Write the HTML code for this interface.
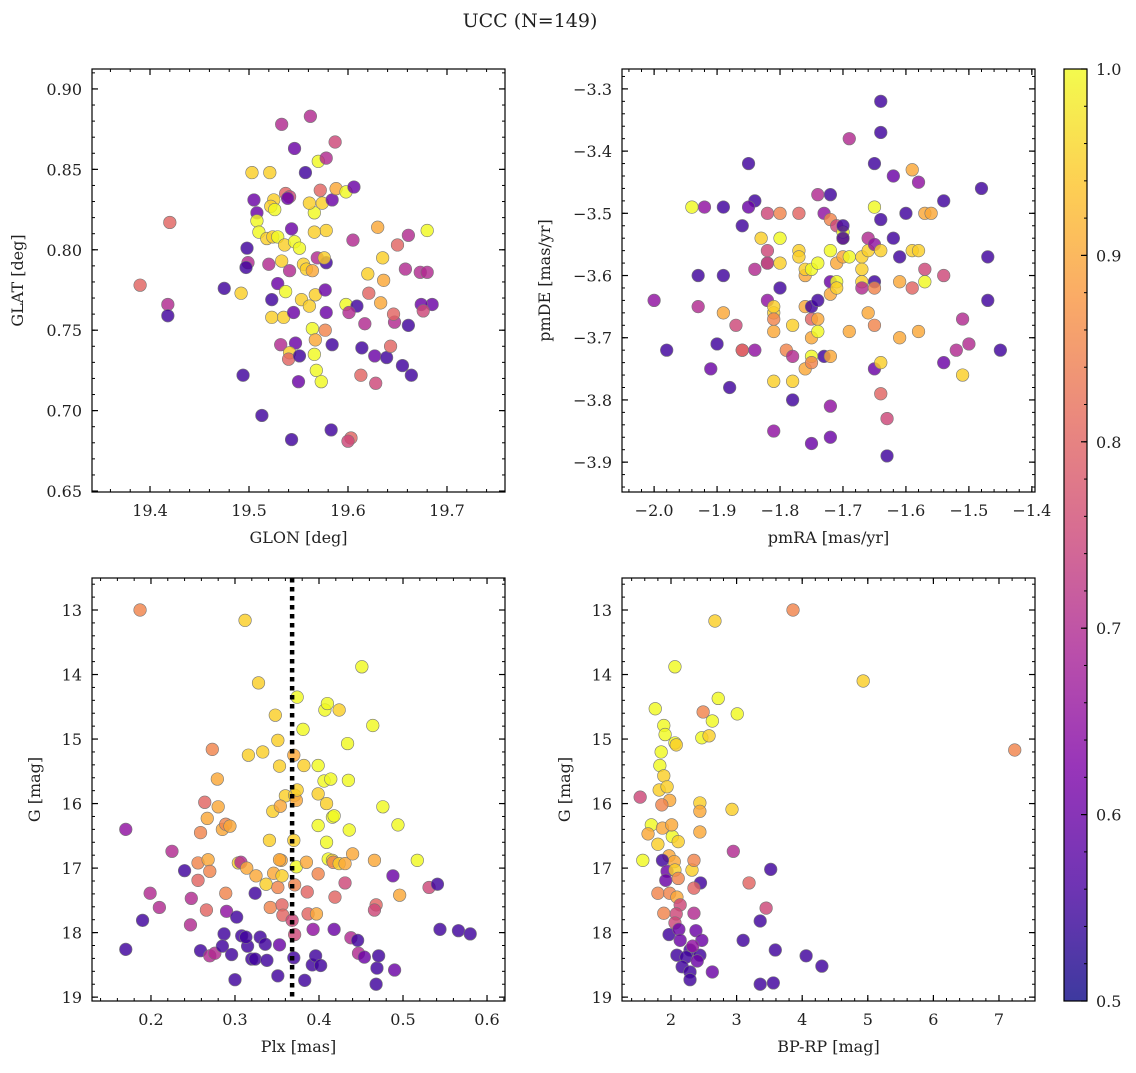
<!DOCTYPE html>
<html><head><meta charset="utf-8"><style>
body{margin:0;background:#fff;}
svg text{font-family:"DejaVu Serif","Liberation Serif",serif;fill:#222;}
</style></head><body>
<svg id="fig" width="1136" height="1068" viewBox="0 0 1136 1068" xmlns="http://www.w3.org/2000/svg">
<text x="530" y="27" font-size="19" text-anchor="middle">UCC (N=149)</text>
</svg>
<script>
// Panel 1: GLON, GLAT, prob
const p1x=[19.390,19.420,19.418,19.418,19.475,19.494,19.513,19.492,19.498,19.499,19.497,19.503,19.521,19.533,19.546,19.562,19.587,19.505,19.508,19.508,19.510,19.518,19.524,19.529,19.525,19.522,19.526,19.537,19.541,19.539,19.543,19.536,19.546,19.551,19.533,19.520,19.541,19.529,19.537,19.523,19.555,19.558,19.564,19.569,19.578,19.576,19.578,19.566,19.566,19.561,19.574,19.584,19.572,19.588,19.598,19.606,19.570,19.578,19.557,19.523,19.535,19.553,19.561,19.567,19.577,19.598,19.609,19.601,19.545,19.532,19.547,19.564,19.567,19.566,19.584,19.577,19.541,19.540,19.551,19.568,19.550,19.573,19.613,19.614,19.627,19.639,19.643,19.617,19.633,19.647,19.661,19.658,19.650,19.630,19.661,19.673,19.680,19.685,19.674,19.676,19.680,19.664,19.655,19.620,19.635,19.636,19.646,19.621,19.605,19.543,19.583,19.603,19.600,19.628,19.578];
const p1y=[0.778,0.817,0.766,0.759,0.776,0.722,0.697,0.773,0.801,0.792,0.789,0.848,0.848,0.878,0.863,0.883,0.867,0.831,0.823,0.818,0.811,0.807,0.808,0.808,0.831,0.827,0.825,0.835,0.833,0.832,0.813,0.803,0.805,0.801,0.793,0.791,0.787,0.779,0.774,0.769,0.791,0.788,0.787,0.795,0.792,0.795,0.812,0.811,0.823,0.829,0.829,0.831,0.837,0.838,0.836,0.839,0.855,0.857,0.848,0.758,0.758,0.769,0.765,0.772,0.775,0.766,0.765,0.761,0.761,0.741,0.742,0.751,0.744,0.735,0.741,0.750,0.736,0.732,0.734,0.725,0.718,0.718,0.722,0.739,0.734,0.733,0.740,0.754,0.767,0.755,0.753,0.788,0.803,0.814,0.809,0.786,0.786,0.766,0.766,0.762,0.812,0.722,0.728,0.785,0.795,0.781,0.760,0.773,0.806,0.682,0.688,0.683,0.681,0.717,0.761];
const p1p=[0.8,0.8,0.7,0.55,0.55,0.55,0.55,0.95,0.55,0.7,0.55,0.95,0.95,0.7,0.6,0.7,0.75,0.6,0.6,1.0,1.0,0.95,0.95,1.0,0.95,0.95,1.0,0.8,0.75,0.6,0.6,0.95,1.0,1.0,0.95,0.7,0.7,0.6,1.0,0.55,0.95,0.95,0.9,0.7,0.55,0.95,0.95,0.95,1.0,0.95,0.95,0.6,0.8,0.9,1.0,0.6,1.0,0.7,0.55,0.95,0.95,0.95,0.95,0.95,0.6,1.0,0.55,0.7,0.6,0.7,0.6,1.0,0.9,1.0,0.55,0.85,0.95,0.8,0.55,1.0,0.6,1.0,0.8,0.55,0.6,0.55,0.8,0.7,0.9,0.7,0.55,0.7,0.8,0.9,0.7,0.7,0.7,0.6,0.6,0.75,1.0,0.55,0.55,0.95,0.95,0.9,0.8,0.8,0.7,0.55,0.55,0.8,0.75,0.75,0.6];
// Panel 2: pmRA, pmDE, prob
const p2x=[-2.0,-1.98,-1.93,-1.93,-1.94,-1.92,-1.89,-1.89,-1.90,-1.91,-1.88,-1.89,-1.87,-1.86,-1.86,-1.86,-1.85,-1.84,-1.85,-1.84,-1.84,-1.83,-1.82,-1.82,-1.82,-1.82,-1.82,-1.81,-1.81,-1.81,-1.81,-1.81,-1.81,-1.80,-1.80,-1.80,-1.80,-1.79,-1.78,-1.78,-1.78,-1.78,-1.77,-1.77,-1.77,-1.76,-1.76,-1.76,-1.75,-1.76,-1.75,-1.75,-1.75,-1.75,-1.75,-1.75,-1.74,-1.74,-1.74,-1.74,-1.74,-1.73,-1.73,-1.72,-1.72,-1.72,-1.72,-1.72,-1.72,-1.72,-1.72,-1.71,-1.71,-1.71,-1.71,-1.70,-1.70,-1.70,-1.70,-1.69,-1.70,-1.69,-1.69,-1.67,-1.67,-1.67,-1.67,-1.66,-1.66,-1.66,-1.65,-1.65,-1.65,-1.65,-1.65,-1.65,-1.65,-1.64,-1.64,-1.64,-1.64,-1.63,-1.64,-1.63,-1.64,-1.62,-1.62,-1.61,-1.61,-1.61,-1.60,-1.59,-1.59,-1.59,-1.58,-1.58,-1.58,-1.57,-1.57,-1.56,-1.57,-1.54,-1.54,-1.54,-1.51,-1.51,-1.52,-1.50,-1.48,-1.47,-1.47,-1.45];
const p2y=[-3.64,-3.72,-3.60,-3.65,-3.49,-3.49,-3.49,-3.60,-3.71,-3.75,-3.78,-3.66,-3.68,-3.72,-3.72,-3.52,-3.42,-3.48,-3.49,-3.59,-3.72,-3.54,-3.50,-3.56,-3.58,-3.58,-3.64,-3.66,-3.65,-3.69,-3.67,-3.77,-3.85,-3.62,-3.58,-3.54,-3.50,-3.72,-3.80,-3.77,-3.73,-3.68,-3.56,-3.57,-3.50,-3.65,-3.60,-3.59,-3.59,-3.75,-3.73,-3.70,-3.67,-3.65,-3.74,-3.87,-3.58,-3.47,-3.64,-3.67,-3.69,-3.73,-3.50,-3.73,-3.61,-3.63,-3.47,-3.51,-3.56,-3.81,-3.86,-3.61,-3.52,-3.62,-3.58,-3.54,-3.53,-3.52,-3.54,-3.38,-3.57,-3.57,-3.69,-3.57,-3.61,-3.59,-3.62,-3.66,-3.54,-3.56,-3.61,-3.62,-3.75,-3.68,-3.55,-3.49,-3.42,-3.32,-3.37,-3.56,-3.74,-3.89,-3.79,-3.83,-3.51,-3.44,-3.54,-3.57,-3.61,-3.70,-3.50,-3.62,-3.43,-3.56,-3.45,-3.56,-3.69,-3.61,-3.50,-3.50,-3.59,-3.60,-3.48,-3.74,-3.67,-3.76,-3.72,-3.71,-3.46,-3.57,-3.64,-3.72];
const p2p=[0.65,0.55,0.55,0.7,1.0,0.65,0.55,0.55,0.55,0.6,0.55,0.9,0.75,0.75,0.8,0.55,0.55,0.55,0.6,0.7,0.65,0.95,0.75,0.75,0.95,0.7,0.65,0.95,0.95,0.9,0.85,0.95,0.65,0.55,0.95,1.0,0.85,0.85,0.55,0.95,0.7,0.95,0.95,0.95,0.8,0.9,0.9,0.95,1.0,0.9,1.0,0.9,0.8,0.55,0.85,0.6,1.0,0.7,0.55,0.9,1.0,0.55,0.65,0.9,0.6,0.9,0.55,0.85,1.0,0.65,0.6,1.0,0.75,0.95,0.9,0.9,1.0,0.55,0.55,0.7,0.9,1.0,0.9,0.95,0.95,0.95,0.7,0.9,0.7,0.95,0.55,0.85,0.6,0.85,0.65,1.0,0.55,0.55,0.55,0.95,0.95,0.55,0.8,0.75,0.55,0.6,0.55,0.55,0.9,0.9,0.55,0.8,0.9,0.95,0.65,0.95,0.9,1.0,0.9,0.9,0.75,0.75,0.55,0.6,0.7,0.95,0.7,0.7,0.55,0.55,0.55,0.55];
// Panel 3: Plx, G, prob
const p3x=[0.187,0.312,0.170,0.190,0.199,0.210,0.225,0.170,0.240,0.248,0.247,0.256,0.256,0.259,0.259,0.264,0.266,0.268,0.270,0.273,0.276,0.267,0.270,0.279,0.280,0.285,0.289,0.287,0.285,0.289,0.290,0.294,0.300,0.296,0.302,0.304,0.307,0.315,0.308,0.313,0.314,0.316,0.320,0.324,0.325,0.324,0.328,0.330,0.333,0.336,0.342,0.337,0.341,0.345,0.338,0.351,0.351,0.346,0.348,0.351,0.353,0.355,0.356,0.356,0.357,0.353,0.353,0.360,0.354,0.374,0.370,0.371,0.373,0.370,0.373,0.371,0.368,0.371,0.370,0.374,0.381,0.382,0.385,0.386,0.383,0.387,0.392,0.397,0.393,0.399,0.399,0.399,0.399,0.396,0.402,0.407,0.409,0.409,0.411,0.410,0.406,0.414,0.416,0.416,0.418,0.417,0.419,0.418,0.424,0.424,0.431,0.431,0.435,0.434,0.436,0.438,0.440,0.451,0.446,0.447,0.454,0.464,0.466,0.468,0.466,0.468,0.469,0.471,0.476,0.488,0.490,0.494,0.496,0.517,0.531,0.541,0.544,0.566,0.580];
const p3y=[13.0,13.16,16.40,17.81,17.39,17.61,16.74,18.26,17.04,17.47,17.88,16.92,17.19,18.28,16.45,15.98,17.65,16.87,18.36,15.16,18.32,16.23,17.05,15.62,16.05,16.40,16.32,18.02,18.21,17.39,17.67,16.35,18.73,18.34,17.76,16.92,16.91,18.21,18.05,18.07,17.00,15.25,18.41,18.41,17.12,17.39,14.13,18.07,15.20,18.18,17.61,17.25,16.57,16.12,18.43,18.67,17.30,17.08,14.63,15.02,15.42,16.88,17.12,17.57,17.73,18.19,16.87,15.88,16.04,14.35,15.25,15.87,15.95,16.57,16.98,17.26,17.81,18.03,18.39,15.79,14.85,15.41,16.91,17.37,18.74,17.71,18.50,17.71,17.95,17.09,16.34,15.85,15.41,18.36,18.51,14.55,16.00,16.60,16.86,14.45,15.65,15.62,16.21,16.88,16.19,16.91,17.45,17.95,14.55,16.93,16.93,17.23,15.64,15.07,16.41,18.08,16.78,13.88,18.12,18.32,18.38,14.79,16.88,17.57,17.65,18.80,18.55,18.36,16.05,17.12,18.58,16.33,17.42,16.88,17.30,17.25,17.95,17.97,18.02];
const p3p=[0.85,0.95,0.65,0.55,0.7,0.7,0.7,0.55,0.55,0.7,0.7,0.85,0.8,0.55,0.85,0.8,0.8,0.9,0.7,0.85,0.7,0.9,0.85,0.9,0.9,0.9,0.85,0.55,0.55,0.85,0.65,0.9,0.55,0.55,0.55,0.95,0.7,0.55,0.55,0.55,0.9,0.95,0.55,0.55,0.9,0.55,0.95,0.55,0.95,0.55,0.85,0.95,0.95,0.95,0.55,0.55,0.85,0.9,0.95,0.95,0.95,0.9,0.95,0.8,0.8,0.6,0.9,0.95,0.9,1.0,0.9,0.95,0.9,0.95,1.0,0.85,0.75,0.75,0.55,0.95,1.0,0.95,0.9,0.8,0.55,0.8,0.55,0.9,0.65,0.85,1.0,0.95,1.0,0.55,0.55,1.0,0.95,1.0,1.0,1.0,1.0,1.0,1.0,0.95,1.0,0.85,0.8,0.6,0.95,0.95,0.9,0.75,1.0,1.0,1.0,0.7,0.9,1.0,0.55,0.7,0.6,1.0,0.9,0.8,0.75,0.55,0.55,0.55,1.0,0.6,0.6,1.0,0.9,1.0,0.75,0.55,0.55,0.55,0.55];
// Panel 4: BP-RP, G, prob
const p4x=[3.86,2.67,2.06,4.93,2.72,2.49,3.01,2.63,1.76,1.89,1.91,2.06,2.08,7.24,2.47,2.58,1.85,1.83,1.89,1.82,1.94,1.98,1.53,1.86,2.44,2.44,2.93,1.70,1.87,2.02,2.44,1.65,2.01,1.80,2.11,1.97,1.57,2.05,1.87,1.94,1.92,2.06,2.11,2.32,2.35,2.95,3.52,3.19,2.45,1.80,1.98,2.09,2.35,2.14,2.08,1.89,2.35,2.06,1.97,2.12,2.14,2.38,2.47,2.29,2.09,2.23,2.44,2.17,2.29,2.63,2.29,3.10,3.36,3.45,3.59,4.06,4.30,3.36,3.56,2.40,2.33];
const p4y=[13.0,13.17,13.88,14.10,14.37,14.58,14.61,14.72,14.53,14.79,14.93,15.06,15.09,15.17,14.98,14.95,15.20,15.41,15.57,15.79,15.74,15.95,15.90,16.02,15.99,16.12,16.09,16.33,16.38,16.51,16.44,16.47,16.33,16.63,16.59,16.81,16.88,16.90,16.88,17.05,17.19,17.03,17.16,17.03,16.88,16.74,17.02,17.23,17.23,17.39,17.39,17.45,17.31,17.57,17.71,17.70,17.70,17.85,18.03,17.95,18.12,17.97,18.12,18.27,18.35,18.38,18.35,18.53,18.61,18.61,18.73,18.12,17.82,17.62,18.27,18.36,18.52,18.80,18.78,18.44,18.21];
const p4p=[0.85,0.95,1.0,0.95,1.0,0.85,1.0,1.0,1.0,1.0,1.0,1.0,0.95,0.85,1.0,0.95,1.0,1.0,0.95,0.95,0.95,0.9,0.75,0.85,0.95,0.9,0.95,1.0,0.9,1.0,0.9,0.9,0.9,0.95,0.95,0.9,1.0,0.9,0.55,0.6,0.6,0.95,0.85,0.95,0.85,0.7,0.55,0.8,0.55,0.85,0.85,0.9,0.8,0.75,0.75,0.85,0.7,0.75,0.55,0.6,0.6,0.6,0.6,0.55,0.55,0.55,0.55,0.55,0.55,0.6,0.55,0.55,0.55,0.75,0.55,0.55,0.55,0.55,0.55,0.6,0.65];
const p1xt=[19.4,19.5,19.6,19.7], p1yt=[0.65,0.70,0.75,0.80,0.85,0.90];
const p2xt=[-2.0,-1.9,-1.8,-1.7,-1.6,-1.5,-1.4], p2yt=[-3.9,-3.8,-3.7,-3.6,-3.5,-3.4,-3.3];
const p3xt=[0.2,0.3,0.4,0.5,0.6], gt=[13,14,15,16,17,18,19];
const p4xt=[1,2,3,4,5,6,7];
const cbt=[0.5,0.6,0.7,0.8,0.9,1.0];
const plxCut=0.368;

const NS="http://www.w3.org/2000/svg";
const svg=document.getElementById('fig');
const stops=["#0d0887","#4c02a1","#7e03a8","#a92395","#cc4778","#e56b5d","#f89441","#fdc328","#f0f921"];
function hx(h){return [1,3,5].map(i=>parseInt(h.substr(i,2),16));}
function plasma(t){t=Math.max(0,Math.min(1,t));const f=t*8,i=Math.min(7,Math.floor(f)),u=f-i;const a=hx(stops[i]),b=hx(stops[i+1]);return 'rgb('+a.map((v,k)=>Math.round(v+(b[k]-v)*u)).join(',')+')';}
function mk(tag,attrs,parent){const e=document.createElementNS(NS,tag);for(const k in attrs)e.setAttribute(k,attrs[k]);(parent||svg).appendChild(e);return e;}
function fmtFix(d){return v=>v.toFixed(d).replace('-','\u2212');}

function panel(cfg){
  const {L,T,W,H,x0,x1,y0,y1,inv,xt,yt,xf,yf,xl,yl,xs,ys,ps,name,minx,miny}=cfg;
  const g=mk('g',{});
  
  
  const X=v=>L+(v-x0)/(x1-x0)*W;
  const Y=v=>inv?T+(v-y0)/(y1-y0)*H:T+H-(v-y0)/(y1-y0)*H;
  for(let i=0;i<xs.length;i++){
    const c=mk('circle',{cx:X(xs[i]),cy:Y(ys[i]),r:6.3,fill:plasma((ps[i]-0.5)/0.5),'fill-opacity':0.82,stroke:'#777','stroke-width':0.6},g);
    
    
  }
  if(cfg.cut!==undefined){
    const l=mk('line',{x1:X(cfg.cut),x2:X(cfg.cut),y1:T,y2:T+H,stroke:'#000','stroke-width':4.5,'stroke-dasharray':'4.5,4.5'},g);
    
    
  }
  const fr=mk('rect',{x:L,y:T,width:W,height:H,fill:'none',stroke:'#000','stroke-width':1.2},g);
  
  
  // minor ticks
  for(let v=Math.ceil(x0/minx)*minx;v<=x1;v+=minx){const px=X(v);mk('line',{x1:px,x2:px,y1:T+H,y2:T+H-3,stroke:'#000'},g);mk('line',{x1:px,x2:px,y1:T,y2:T+3,stroke:'#000'},g);}
  const ya=Math.min(y0,y1),yb=Math.max(y0,y1);
  for(let v=Math.ceil(ya/miny)*miny;v<=yb;v+=miny){const py=Y(v);mk('line',{x1:L,x2:L+3,y1:py,y2:py,stroke:'#000'},g);mk('line',{x1:L+W,x2:L+W-3,y1:py,y2:py,stroke:'#000'},g);}
  xt.forEach(v=>{const px=X(v);if(px<L-1||px>L+W+1)return;
    mk('line',{x1:px,x2:px,y1:T+H,y2:T+H-6,stroke:'#000','stroke-width':1.2},g);mk('line',{x1:px,x2:px,y1:T,y2:T+6,stroke:'#000','stroke-width':1.2},g);
    const t=mk('text',{x:px,y:T+H+24,'font-size':16,'text-anchor':'middle'},g);t.textContent=xf(v);
    });
  yt.forEach(v=>{const py=Y(v);
    mk('line',{x1:L,x2:L+6,y1:py,y2:py,stroke:'#000','stroke-width':1.2},g);mk('line',{x1:L+W,x2:L+W-6,y1:py,y2:py,stroke:'#000','stroke-width':1.2},g);
    const t=mk('text',{x:L-10,y:py+6,'font-size':16,'text-anchor':'end'},g);t.textContent=yf(v);
    });
  const xt1=mk('text',{x:L+W/2,y:T+H+51,'font-size':16,'text-anchor':'middle'},g);xt1.textContent=xl;
  
  const yx=cfg.ylx,yy=T+H/2;
  const yt1=mk('text',{x:yx,y:yy,'font-size':16,'text-anchor':'middle',transform:`rotate(-90 ${yx} ${yy})`},g);yt1.textContent=yl;
  
}
panel({name:'glon-glat-panel',L:92,T:69,W:413,H:423,x0:19.3414,x1:19.7586,y0:0.6494,y1:0.9124,xt:p1xt,yt:p1yt,xf:fmtFix(1),yf:fmtFix(2),xl:'GLON [deg]',yl:'GLAT [deg]',ylx:23,xs:p1x,ys:p1y,ps:p1p,minx:0.02,miny:0.01});
panel({name:'proper-motion-panel',L:622,T:69,W:413,H:423,x0:-2.051,x1:-1.395,y0:-3.948,y1:-3.268,xt:p2xt,yt:p2yt,xf:fmtFix(1),yf:fmtFix(1),xl:'pmRA [mas/yr]',yl:'pmDE [mas/yr]',ylx:550,xs:p2x,ys:p2y,ps:p2p,minx:0.02,miny:0.02});
panel({name:'plx-g-panel',L:92,T:578,W:413,H:423,x0:0.1298,x1:0.6214,y0:12.504,y1:19.06,inv:true,xt:p3xt,yt:gt,xf:fmtFix(1),yf:v=>String(v),xl:'Plx [mas]',yl:'G [mag]',ylx:40,xs:p3x,ys:p3y,ps:p3p,minx:0.02,miny:0.2,cut:plxCut});
panel({name:'cmd-panel',L:622,T:578,W:413,H:423,x0:1.253,x1:7.549,y0:12.504,y1:19.06,inv:true,xt:p4xt,yt:gt,xf:v=>String(v),yf:v=>String(v),xl:'BP-RP [mag]',yl:'G [mag]',ylx:570,xs:p4x,ys:p4y,ps:p4p,minx:0.2,miny:0.2});

// colorbar
const cb=mk('g',{});


const defs=mk('defs',{},cb);
const lg=mk('linearGradient',{id:'pg',x1:0,y1:1,x2:0,y2:0},defs);
stops.forEach((s,i)=>mk('stop',{offset:i/8,'stop-color':s},lg));
mk('rect',{x:1064,y:69,width:23,height:932,fill:'url(#pg)','fill-opacity':0.8},cb);
mk('rect',{x:1064,y:69,width:23,height:932,fill:'none',stroke:'#000','stroke-width':1.2},cb);
const CY=v=>1001-(v-0.5)/0.5*932;
for(let v=0.5;v<=1.0001;v+=0.02){mk('line',{x1:1087,x2:1084,y1:CY(v),y2:CY(v),stroke:'#000'},cb);}
cbt.forEach(v=>{mk('line',{x1:1087,x2:1081,y1:CY(v),y2:CY(v),stroke:'#000','stroke-width':1.2},cb);
  const t=mk('text',{x:1096,y:CY(v)+6,'font-size':16},cb);t.textContent=v.toFixed(1);
  });
</script>
</body></html>
